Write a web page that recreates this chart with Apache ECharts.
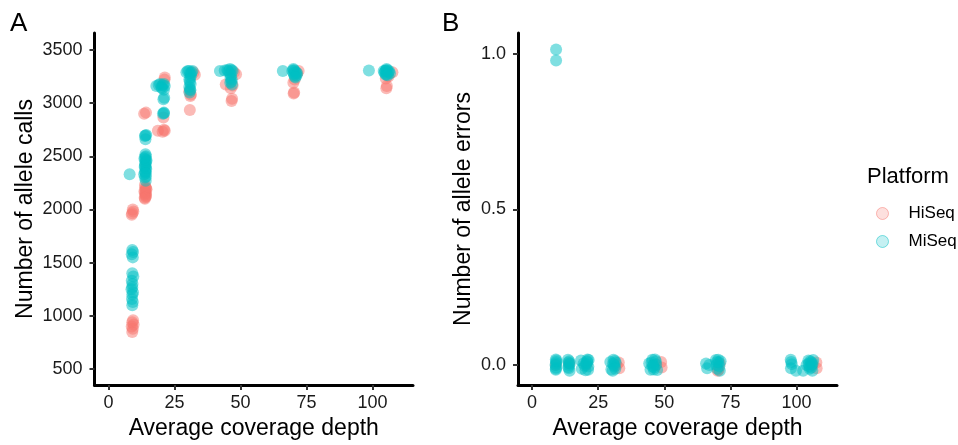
<!DOCTYPE html>
<html>
<head>
<meta charset="utf-8">
<script src="https://cdn.jsdelivr.net/npm/echarts@6/dist/echarts.min.js"></script>
<style>
  html, body { margin: 0; padding: 0; background: #fff; }
  #chart { width: 958px; height: 445px; }
</style>
</head>
<body>
<div id="chart"></div>
<script>
// panel A: [depth, allele calls]
var callsHiSeq = [
  [9, 850], [9.2, 880], [8.8, 900], [9.5, 920], [9, 940], [9.3, 960],
  [8.8, 1950], [9.4, 1980], [9, 1965], [9.2, 2000],
  [13.8, 2100], [14.2, 2130], [14, 2150], [13.6, 2170], [14.4, 2190], [14, 2210], [13.8, 2230], [14.1, 2120],
  [14, 2140], [13.9, 2180], [14.2, 2200], [14.1, 2160], [13.7, 2110],
  [13.5, 2900], [14.2, 2910],
  [18.7, 2740], [20.5, 2730], [21, 2750], [21.3, 2740], [20.8, 2865], [21.2, 3220], [21.3, 3240],
  [30.8, 2935], [31, 3065], [30.6, 3110], [32.7, 3265], [32.2, 3290], [31.2, 3080],
  [46.6, 3020], [46.3, 3140], [47, 3165], [44.4, 3175], [48.3, 3270], [47.5, 3290], [46.8, 3040],
  [70.1, 3090], [70, 3190], [70.5, 3220], [71.4, 3280], [72, 3300], [70.3, 3100],
  [105.2, 3140], [105, 3230], [106, 3250], [107.5, 3290], [105.4, 3160]
];
var callsMiSeq = [
  [8, 2330],
  [9, 1620], [9.3, 1600], [8.8, 1580], [9.2, 1550],
  [9, 1400], [9.4, 1370], [8.8, 1330], [9.1, 1300], [9, 1270], [8.7, 1250], [9.3, 1220], [9, 1200], [8.9, 1160], [9.2, 1130], [9, 1100],
  [13.5, 2330], [14, 2350], [14.3, 2380], [13.7, 2400], [14.1, 2420], [13.9, 2440], [14.4, 2460], [13.6, 2480],
  [14.2, 2500], [14, 2520], [13.8, 2300], [14.1, 2270], [13.8, 2690], [14.3, 2700], [14, 2660],
  [14.2, 2310], [13.9, 2360], [14.1, 2390], [13.8, 2410], [14.2, 2450], [14, 2470], [13.9, 2490], [14.1, 2340], [14, 2695],
  [18.1, 3160], [19.5, 3180], [20, 3150], [21.3, 3160], [21, 3125], [20.8, 3035], [21, 2910], [20.6, 2900],
  [19, 3170], [20.5, 3170], [21, 3180], [20.3, 3140], [21, 2905], [21.1, 3050],
  [29.5, 3290], [31.4, 3290], [30.5, 3300], [31, 3240], [30.8, 3200], [30.6, 3150], [31, 3120], [30.7, 3100],
  [30, 3300], [31.8, 3300], [30.9, 3280], [31.2, 3260], [30.6, 3220], [31.1, 3180], [30.9, 3130],
  [42.2, 3300], [45.4, 3300], [46.6, 3310], [46, 3280], [46.2, 3235], [46.5, 3200], [46.8, 3175],
  [44, 3305], [45, 3310], [46, 3320], [47, 3300], [46.4, 3260], [46.7, 3220], [46.1, 3190],
  [66, 3300], [70.1, 3310], [70, 3320], [70.3, 3265], [71.4, 3280], [70.6, 3250],
  [70.5, 3300], [71, 3290], [69.6, 3300], [70.2, 3280], [71.2, 3260], [70.8, 3240],
  [98.6, 3305], [105, 3305], [105.3, 3320], [105, 3265], [106.6, 3280], [104.5, 3285],
  [104.8, 3300], [105.5, 3310], [106, 3290], [105.2, 3270], [104.2, 3300], [106.2, 3300], [105.7, 3260]
];
// panel B: [depth, allele errors]
var errorsHiSeq = [
  [9, 0.0], [14, 0.005], [20.5, 0.0], [32.8, 0.008], [33, -0.01], [32, 0.0],
  [48.8, 0.01], [49, -0.008], [47, 0.0], [70.5, -0.015], [71, 0.005], [70.2, -0.018],
  [107.5, 0.008], [107.6, -0.01], [106, 0.0]
];
var errorsMiSeq = [
  [9.1, 1.013], [9.1, 0.978],
  [9, 0.018], [9.2, 0.01], [8.9, 0.0], [9.1, -0.008], [9, -0.015], [9.1, 0.005], [9, -0.012], [9.2, 0.015],
  [13.6, 0.017], [14.3, 0.005], [13.9, -0.01], [14.2, -0.018], [14, 0.0], [13.7, -0.006], [14.1, 0.012], [13.8, 0.008],
  [18.5, 0.015], [18.8, -0.012], [19.5, 0.005], [20.2, -0.017], [20.8, 0.012], [21.3, -0.005], [21, 0.018], [19.9, -0.002],
  [20.5, 0.004], [21.2, -0.015], [20.9, 0.009], [21.4, 0.016],
  [29.6, 0.01], [30, -0.014], [30.8, 0.017], [31.2, -0.005], [31.6, 0.008], [30.5, -0.018], [31, 0.0],
  [31.3, 0.013], [30.6, 0.004], [31.5, -0.012],
  [44.3, 0.005], [44.8, -0.015], [45.5, 0.017], [46.2, -0.008], [46.8, 0.012], [47.3, -0.016], [45.8, 0.0], [46.5, 0.018],
  [45.2, 0.008], [46, -0.014], [46.9, 0.002], [45.6, -0.005],
  [65.8, 0.005], [66.2, -0.01], [67, 0.0], [69.5, 0.016], [70, -0.012], [70.5, 0.008], [71, -0.018], [71.3, 0.012], [69.8, 0.0],
  [70.4, 0.017], [70.8, -0.004], [69.9, 0.01],
  [97.8, 0.017], [98.2, 0.003], [97.9, -0.01], [99.8, -0.018], [98, 0.01],
  [103.8, 0.0], [104.5, 0.015], [105, -0.012], [105.5, 0.008], [106, -0.018], [106.3, 0.016], [104.8, -0.005], [105.8, 0.002], [102.5, -0.018],
  [105.2, 0.012], [105.6, -0.008], [106.1, 0.005], [104.6, 0.004]
];
var depthTicks = [0, 25, 50, 75, 100];
var callsTicks = [500, 1000, 1500, 2000, 2500, 3000, 3500];
var errorsTicks = [0, 0.5, 1];

var hiColor = '#F8766D', miColor = '#00BFC4';
var font = 'Liberation Sans, Arial, sans-serif';
var tickColor = '#333';

function xAxisFor(idx) {
  return {
    type: 'value', gridIndex: idx, min: -5.3, max: 115.3,
    name: 'Average coverage depth', nameLocation: 'middle', nameGap: 32,
    nameTextStyle: { fontFamily: font, fontSize: 23, color: '#000' },
    splitLine: { show: false },
    axisLine: { onZero: false, lineStyle: { color: '#000', width: 3 } },
    axisTick: { customValues: depthTicks, length: 5, lineStyle: { color: tickColor, width: 2 } },
    axisLabel: { customValues: depthTicks, fontFamily: font, fontSize: 18, color: '#1a1a1a', margin: 9 }
  };
}
function yAxisFor(idx, min, max, ticks, title, gap, fmt) {
  return {
    type: 'value', gridIndex: idx, min: min, max: max,
    name: title, nameLocation: 'middle', nameGap: gap,
    nameTextStyle: { fontFamily: font, fontSize: 23, color: '#000' },
    splitLine: { show: false },
    axisLine: { show: true, onZero: false, lineStyle: { color: '#000', width: 3 } },
    axisTick: { show: true, customValues: ticks, length: 5, lineStyle: { color: tickColor, width: 2 } },
    axisLabel: { customValues: ticks, fontFamily: font, fontSize: 18, color: '#1a1a1a', margin: 12, formatter: fmt }
  };
}

var chart = echarts.init(document.getElementById('chart'));
var option = {
  animation: false,
  backgroundColor: '#fff',
  title: [
    { text: 'A', left: 5, top: 6, textStyle: { fontFamily: font, fontSize: 26, fontWeight: 'normal', color: '#000' } },
    { text: 'B', left: 437, top: 6, textStyle: { fontFamily: font, fontSize: 26, fontWeight: 'normal', color: '#000' } },
    { text: 'Platform', left: 862, top: 161, textStyle: { fontFamily: font, fontSize: 22, fontWeight: 'normal', color: '#000' } }
  ],
  legend: {
    orient: 'vertical', left: 876, top: 205, itemGap: 11, padding: 0,
    itemWidth: 12, itemHeight: 12, icon: 'circle',
    textStyle: { fontFamily: font, fontSize: 17, color: '#000', padding: [0, 0, 0, 15] },
    data: [
      { name: 'HiSeq', itemStyle: { color: 'rgba(248,118,109,0.45)', borderColor: hiColor, borderWidth: 1 } },
      { name: 'MiSeq', itemStyle: { color: 'rgba(0,191,196,0.45)', borderColor: miColor, borderWidth: 1 } }
    ]
  },
  grid: [
    { left: 94.5, top: 33, right: 545, bottom: 57 },
    { left: 518, top: 33, right: 121, bottom: 57 }
  ],
  xAxis: [xAxisFor(0), xAxisFor(1)],
  yAxis: [
    yAxisFor(0, 351, 3658, callsTicks, 'Number of allele calls', 57, function (v) { return String(v); }),
    yAxisFor(1, -0.064, 1.066, errorsTicks, 'Number of allele errors', 43, function (v) { return v.toFixed(1); })
  ],
  series: [
    { name: 'HiSeq', type: 'scatter', xAxisIndex: 0, yAxisIndex: 0, symbolSize: 12, data: callsHiSeq,
      itemStyle: { color: hiColor, opacity: 0.5 } },
    { name: 'MiSeq', type: 'scatter', xAxisIndex: 0, yAxisIndex: 0, symbolSize: 12, data: callsMiSeq,
      itemStyle: { color: miColor, opacity: 0.5 } },
    { name: 'HiSeq', type: 'scatter', xAxisIndex: 1, yAxisIndex: 1, symbolSize: 12, data: errorsHiSeq,
      itemStyle: { color: hiColor, opacity: 0.5 } },
    { name: 'MiSeq', type: 'scatter', xAxisIndex: 1, yAxisIndex: 1, symbolSize: 12, data: errorsMiSeq,
      itemStyle: { color: miColor, opacity: 0.5 } }
  ]
};
chart.setOption(option);
</script>
</body>
</html>
